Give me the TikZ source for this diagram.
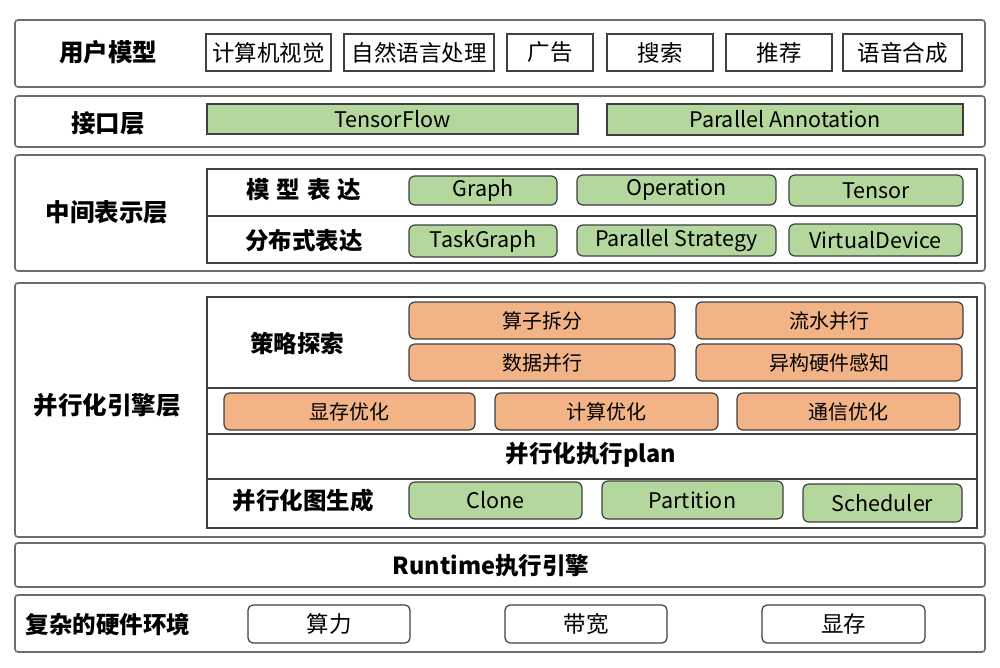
\documentclass[tikz,border=0pt]{standalone}
\usepackage{fontspec}
\setmainfont{Noto Sans CJK SC}
\definecolor{gfill}{HTML}{B3D79C}
\definecolor{ofill}{HTML}{F2B386}
\definecolor{lineD}{HTML}{3F3F3F}
\definecolor{lineL}{HTML}{6E6E6E}
\newcommand\placebox[7]{%
  \node[#2, minimum width={(#5-#3)*1pt}, minimum height={(#6-#4)*1pt}]
    (#1) at ({(#3+#5)/2},{(#4+#6)/2}) {#7};}
\tikzset{
  layer/.style={draw=lineL, line width=1.6pt, rounded corners=3pt, fill=white, inner sep=0pt, outer sep=0pt},
  frame/.style={draw=lineD, line width=1.2pt, inner sep=0pt, outer sep=0pt},
  wbox/.style={draw=lineD, line width=1.2pt, fill=white, inner sep=0pt, outer sep=0pt, font=\fontsize{22.5}{26}\selectfont},
  wrbox/.style={wbox, rounded corners=5pt},
  gbox/.style={draw=lineD, line width=1.2pt, fill=gfill, inner sep=0pt, outer sep=0pt, font=\fontsize{21.5}{25}\selectfont},
  grbox/.style={gbox, rounded corners=6pt},
  obox/.style={draw=lineD, line width=1.2pt, fill=ofill, rounded corners=6pt, inner sep=0pt, outer sep=0pt, font=\fontsize{20}{24}\selectfont},
  lbl/.style={font=\bfseries\fontsize{24.5}{28}\selectfont, inner sep=0pt},
  slbl/.style={font=\bfseries\fontsize{23.5}{27}\selectfont, inner sep=0pt},
  divider/.style={draw=lineD, line width=1.2pt}
}
\begin{document}
\begin{tikzpicture}[x=1pt,y=-1pt]
\useasboundingbox[fill=white] (0,0) rectangle (1000,667);
% ---- layer 1
\placebox{L1}{layer}{15}{20}{985}{87}{}
\node[lbl] (t1) at (108,52) {用户模型};
\placebox{u1}{wbox}{206}{34}{331}{71}{计算机视觉}
\placebox{u2}{wbox}{344}{34}{494}{71}{自然语言处理}
\placebox{u3}{wbox}{507}{34}{593}{71}{广告}
\placebox{u4}{wbox}{607}{34}{713}{71}{搜索}
\placebox{u5}{wbox}{726}{34}{832}{71}{推荐}
\placebox{u6}{wbox}{843}{34}{962}{71}{语音合成}
% ---- layer 2
\placebox{L2}{layer}{15}{96}{985}{147}{}
\node[lbl] (t2) at (108,123) {接口层};
\placebox{i1}{gbox}{207}{104}{578}{134}{TensorFlow}
\placebox{i2}{gbox}{607}{104}{963}{135}{Parallel Annotation}
% ---- layer 3
\placebox{L3}{layer}{15}{155}{985}{271}{}
\node[lbl] (t3) at (107,212) {中间表示层};
\placebox{F3}{frame}{207}{169}{977}{263}{}
\draw[divider] (207,216) -- (977,216);
\node[slbl] (s31) at (304,190) {模\hspace{7pt}型\hspace{7pt}表\hspace{7pt}达};
\node[slbl] (s32) at (304,241) {分布式表达};
\placebox{m1}{grbox}{409}{176}{557}{205}{Graph}
\placebox{m2}{grbox}{577}{175}{776}{205}{Operation}
\placebox{m3}{grbox}{789}{175}{963}{206}{Tensor}
\placebox{d1}{grbox}{409}{225}{557}{257}{TaskGraph}
\placebox{d2}{grbox}{577}{225}{776}{256}{Parallel Strategy}
\placebox{d3}{grbox}{789}{224}{962}{256}{VirtualDevice}
% ---- layer 4
\placebox{L4}{layer}{15}{283}{985}{537}{}
\node[lbl] (t4) at (107,405) {并行化引擎层};
\placebox{F4}{frame}{207}{297}{977}{528}{}
\draw[divider] (207,388) -- (977,388);
\draw[divider] (207,434) -- (977,434);
\draw[divider] (207,479) -- (977,479);
\node[slbl] (s41) at (297,343) {策略探索};
\placebox{p1}{obox}{409}{302}{675}{339}{算子拆分}
\placebox{p2}{obox}{696}{302}{963}{339}{流水并行}
\placebox{p3}{obox}{409}{344}{675}{381}{数据并行}
\placebox{p4}{obox}{696}{344}{962}{381}{异构硬件感知}
\placebox{o1}{obox}{224}{393}{475}{430}{显存优化}
\placebox{o2}{obox}{495}{393}{718}{430}{计算优化}
\placebox{o3}{obox}{737}{393}{960}{430}{通信优化}
\node[slbl] (s42) at (591,455) {并行化执行plan};
\node[slbl] (s43) at (303,501) {并行化图生成};
\placebox{g1}{grbox}{409}{482}{582}{519}{Clone}
\placebox{g2}{grbox}{602}{481}{783}{519}{Partition}
\placebox{g3}{grbox}{803}{484}{962}{522}{Scheduler}
% ---- layer 5
\placebox{L5}{layer}{15}{543}{985}{587}{}
\node[slbl] (t5) at (491,566) {Runtime执行引擎};
% ---- layer 6
\placebox{L6}{layer}{15}{595}{985}{652}{}
\node[slbl] (t6) at (108,624) {复杂的硬件环境};
\placebox{h1}{wrbox}{248}{605}{410}{643}{算力}
\placebox{h2}{wrbox}{505}{605}{667}{643}{带宽}
\placebox{h3}{wrbox}{762}{605}{925}{643}{显存}
\end{tikzpicture}
\end{document}
